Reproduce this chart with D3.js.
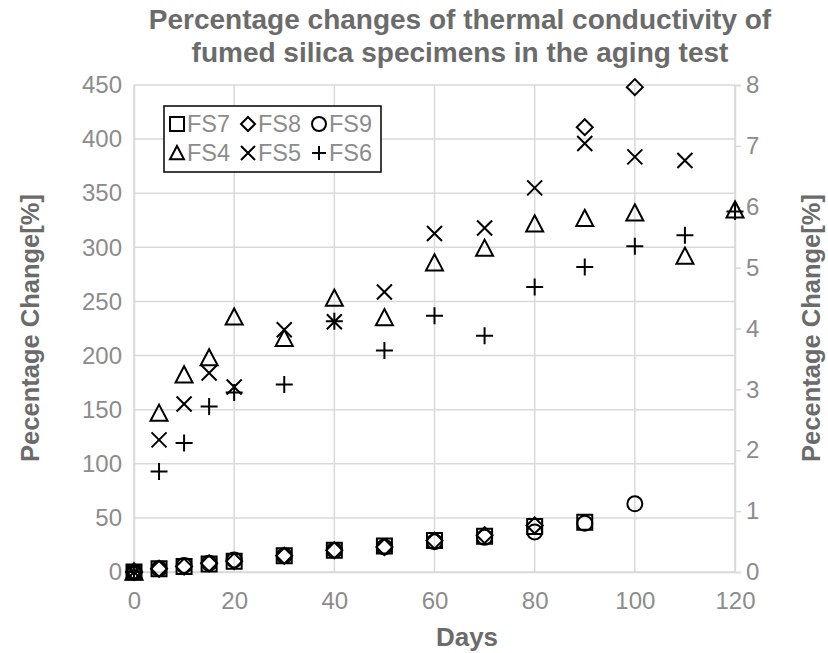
<!DOCTYPE html>
<html>
<head>
<meta charset="utf-8">
<script src="https://cdn.jsdelivr.net/npm/d3@7/dist/d3.min.js"></script>
<style>
  body { margin: 0; background: #fff; }
  text { font-family: "Liberation Sans", Arial, Helvetica, sans-serif; }
</style>
</head>
<body>
<div id="chart"></div>
<script>
// ======= data =======
// primary axis series (left)
var daysFS7 = [0, 5, 10, 15, 20, 30, 40, 50, 60, 70, 80, 90];
var valsFS7 = [0, 3, 5, 7.5, 10, 15, 20, 24, 29, 33, 42, 46];
var daysFS8 = [0, 5, 10, 15, 20, 30, 40, 50, 60, 70, 80, 90, 100];
var valsFS8 = [0, 3, 5, 8, 10, 15, 20, 23, 29, 34, 43, 411, 448];
var daysFS9 = [0, 5, 10, 15, 20, 30, 40, 50, 60, 70, 80, 90, 100];
var valsFS9 = [0, 3, 6, 8, 11, 15, 20, 23, 28, 32, 37, 45, 63];
// secondary axis series (right)
var daysFS4 = [0, 5, 10, 15, 20, 30, 40, 50, 60, 70, 80, 90, 100, 110, 120];
var valsFS4 = [0, 2.61, 3.24, 3.52, 4.19, 3.84, 4.50, 4.18, 5.08, 5.32, 5.72, 5.81, 5.90, 5.19, 5.95];
var daysFS5 = [0, 5, 10, 15, 20, 30, 40, 50, 60, 70, 80, 90, 100, 110];
var valsFS5 = [0, 2.17, 2.76, 3.27, 3.04, 3.98, 4.11, 4.60, 5.56, 5.65, 6.31, 7.04, 6.82, 6.76];
var daysFS6 = [0, 5, 10, 15, 20, 30, 40, 50, 60, 70, 80, 90, 100, 110, 120];
var valsFS6 = [0, 1.65, 2.12, 2.72, 2.95, 3.08, 4.12, 3.64, 4.21, 3.88, 4.68, 5.01, 5.35, 5.53, 5.92];

var xTicks = [0, 20, 40, 60, 80, 100, 120];
var yLeftTicks = [0, 50, 100, 150, 200, 250, 300, 350, 400, 450];
var yRightTicks = [0, 1, 2, 3, 4, 5, 6, 7, 8];
var titleLines = ["Percentage changes of thermal conductivity of", "fumed silica specimens in the aging test"];
var legendRows = [["FS7", "FS8", "FS9"], ["FS4", "FS5", "FS6"]];

// ======= formatting =======
var width = 828, height = 653;
var plot = {left: 134, right: 735, top: 85, bottom: 572};
var gridColor = "#d9d9d9";
var tickColor = "#8c8c8c";
var titleColor = "#6b6b6b";

var svg = d3.select("#chart").append("svg")
    .attr("width", width)
    .attr("height", height);

// ======= scales =======
var xScale = d3.scaleLinear().domain([0, 120]).range([plot.left, plot.right]);
var yLeft = d3.scaleLinear().domain([0, 450]).range([plot.bottom, plot.top]);
var yRight = d3.scaleLinear().domain([0, 8]).range([plot.bottom, plot.top]);

// ======= grid =======
svg.append("g").selectAll("line.h")
    .data(yLeftTicks)
    .enter().append("line")
        .attr("x1", plot.left).attr("x2", plot.right)
        .attr("y1", function(d) { return yLeft(d); })
        .attr("y2", function(d) { return yLeft(d); })
        .attr("stroke", gridColor).attr("stroke-width", 1.5);
svg.append("g").selectAll("line.v")
    .data(xTicks)
    .enter().append("line")
        .attr("x1", function(d) { return xScale(d); })
        .attr("x2", function(d) { return xScale(d); })
        .attr("y1", plot.top).attr("y2", plot.bottom)
        .attr("stroke", gridColor).attr("stroke-width", 1.5);

// ======= axes =======
var xAxis = svg.append("g")
    .attr("transform", "translate(0," + plot.bottom + ")")
    .call(d3.axisBottom(xScale).tickValues(xTicks).tickSize(0).tickPadding(20));
var leftAxis = svg.append("g")
    .attr("transform", "translate(" + plot.left + ",0)")
    .call(d3.axisLeft(yLeft).tickValues(yLeftTicks).tickSize(0).tickPadding(12));
var rightAxis = svg.append("g")
    .attr("transform", "translate(" + plot.right + ",0)")
    .call(d3.axisRight(yRight).tickValues(yRightTicks).tickSize(6).tickPadding(5));

[xAxis, leftAxis, rightAxis].forEach(function(ax) {
    ax.select(".domain").attr("stroke", gridColor).attr("stroke-width", 1.5);
    ax.selectAll(".tick line").attr("stroke", gridColor).attr("stroke-width", 1.5);
    ax.selectAll("text")
        .style("font-family", "'Liberation Sans', Arial, sans-serif")
        .style("font-size", "24px")
        .attr("fill", tickColor);
});

// ======= marker shapes =======
function markerPath(type, s) {
    var h = s / 2;
    if (type == "square") {
        return "M" + (-h) + "," + (-h) + "H" + h + "V" + h + "H" + (-h) + "Z";
    } else if (type == "diamond") {
        return "M0," + (-h) + "L" + h + ",0L0," + h + "L" + (-h) + ",0Z";
    } else if (type == "circle") {
        return "M" + h + ",0A" + h + "," + h + " 0 1,1 " + (-h) + ",0A" + h + "," + h + " 0 1,1 " + h + ",0Z";
    } else if (type == "triangle") {
        return "M0," + (-h) + "L" + h + "," + (h * 0.9) + "L" + (-h) + "," + (h * 0.9) + "Z";
    } else if (type == "x") {
        return "M" + (-h) + "," + (-h) + "L" + h + "," + h + "M" + h + "," + (-h) + "L" + (-h) + "," + h;
    } else {
        return "M" + (-h) + ",0H" + h + "M0," + (-h) + "V" + h;
    }
}

var seriesList = [
    {name: "FS7", shape: "square", days: daysFS7, vals: valsFS7, y: yLeft, size: 15},
    {name: "FS8", shape: "diamond", days: daysFS8, vals: valsFS8, y: yLeft, size: 16},
    {name: "FS9", shape: "circle", days: daysFS9, vals: valsFS9, y: yLeft, size: 15},
    {name: "FS4", shape: "triangle", days: daysFS4, vals: valsFS4, y: yRight, size: 17},
    {name: "FS5", shape: "x", days: daysFS5, vals: valsFS5, y: yRight, size: 15},
    {name: "FS6", shape: "plus", days: daysFS6, vals: valsFS6, y: yRight, size: 17}
];

// ======= points =======
seriesList.forEach(function(s) {
    var pts = s.days.map(function(d, i) { return {day: d, val: s.vals[i]}; });
    svg.append("g").attr("class", "series-" + s.name)
        .selectAll("path")
        .data(pts)
        .enter().append("path")
            .attr("transform", function(d) {
                return "translate(" + xScale(d.day) + "," + s.y(d.val) + ")";
            })
            .attr("d", markerPath(s.shape, s.size))
            .attr("fill", "none")
            .attr("stroke", "#000")
            .attr("stroke-width", 2);
});

// ======= legend =======
var legend = svg.append("g");
legend.append("rect")
    .attr("x", 164).attr("y", 106)
    .attr("width", 217).attr("height", 66)
    .attr("fill", "#fff")
    .attr("stroke", "#000").attr("stroke-width", 1.5);
var shapeByName = {};
seriesList.forEach(function(s) { shapeByName[s.name] = s.shape; });
legendRows.forEach(function(row, r) {
    row.forEach(function(name, c) {
        var mx = 177 + c * 71;
        var my = 124 + r * 29;
        legend.append("path")
            .attr("transform", "translate(" + mx + "," + my + ")")
            .attr("d", markerPath(shapeByName[name], 14))
            .attr("fill", "none").attr("stroke", "#000").attr("stroke-width", 2);
        legend.append("text")
            .attr("x", mx + 10).attr("y", my)
            .attr("dy", "0.35em")
            .style("font-size", "23.5px")
            .attr("fill", tickColor)
            .text(name);
    });
});

// ======= titles =======
svg.append("g").selectAll("text")
    .data(titleLines)
    .enter().append("text")
        .attr("x", 460)
        .attr("y", function(d, i) { return 29 + i * 33; })
        .attr("text-anchor", "middle")
        .style("font-size", "28px")
        .style("font-weight", "bold")
        .attr("fill", titleColor)
        .text(function(d) { return d; });

svg.append("text")
    .attr("x", 467).attr("y", 646)
    .attr("text-anchor", "middle")
    .style("font-size", "26px").style("font-weight", "bold")
    .attr("fill", titleColor)
    .text("Days");

svg.append("text")
    .attr("transform", "translate(39,328) rotate(-90)")
    .attr("text-anchor", "middle")
    .style("font-size", "25.5px").style("font-weight", "bold")
    .attr("fill", titleColor)
    .text("Pecentage Change[%]");

svg.append("text")
    .attr("transform", "translate(820,328) rotate(-90)")
    .attr("text-anchor", "middle")
    .style("font-size", "25.5px").style("font-weight", "bold")
    .attr("fill", titleColor)
    .text("Pecentage Change[%]");
</script>
</body>
</html>
